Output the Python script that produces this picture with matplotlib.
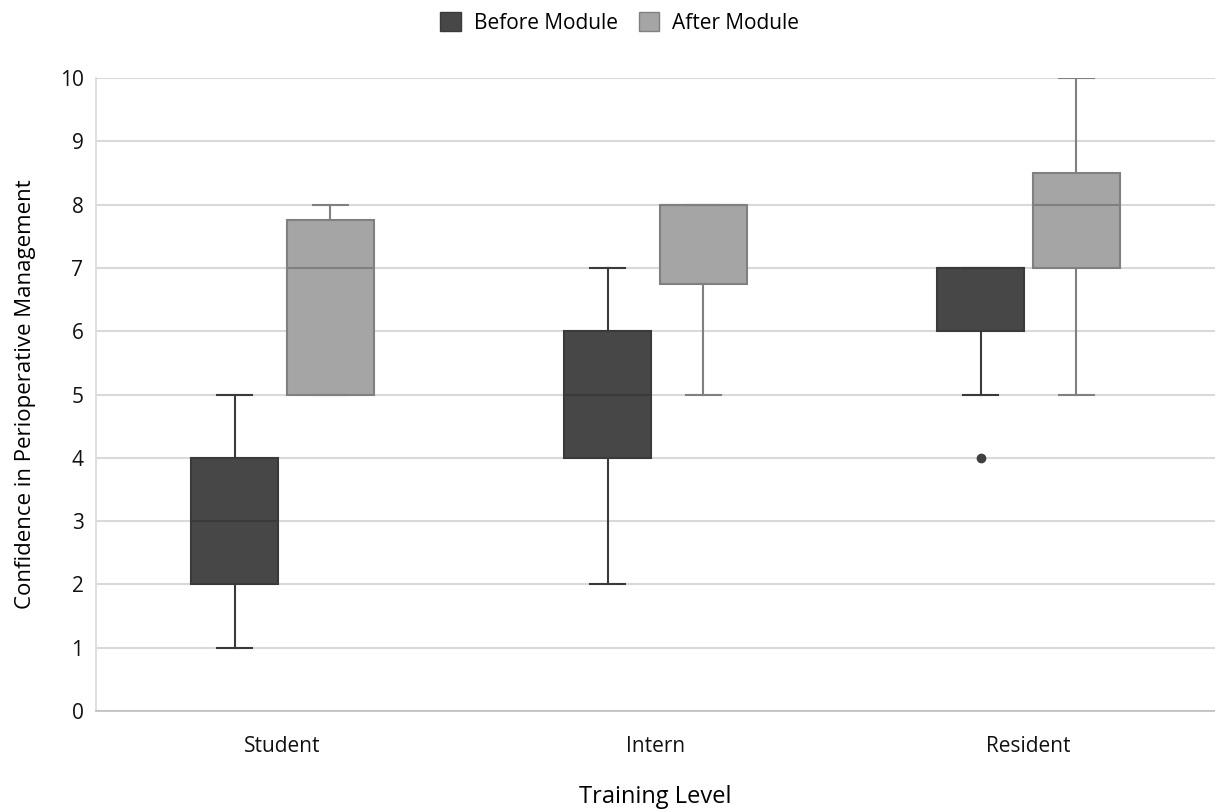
import matplotlib.pyplot as plt
from matplotlib.patches import Patch

plt.rcParams['font.family'] = ['Open Sans', 'DejaVu Sans']

levels = ['Student', 'Intern', 'Resident']

# five-number summaries: whislo, q1, med, q3, whishi
before_lo = [1, 2, 5]
before_q1 = [2, 4, 6]
before_med = [3, 5, 7]
before_q3 = [4, 6, 7]
before_hi = [5, 7, 7]
before_fliers = [[], [], [4]]

after_lo = [5, 5, 5]
after_q1 = [5, 6.75, 7]
after_med = [7, 8, 8]
after_q3 = [7.75, 8, 8.5]
after_hi = [8, 8, 10]
after_fliers = [[], [], []]


def make_stats(lo, q1, med, q3, hi, fl):
    return [dict(whislo=a, q1=b, med=c, q3=d, whishi=e, fliers=f)
            for a, b, c, d, e, f in zip(lo, q1, med, q3, hi, fl)]


before = make_stats(before_lo, before_q1, before_med, before_q3, before_hi, before_fliers)
after = make_stats(after_lo, after_q1, after_med, after_q3, after_hi, after_fliers)

fig = plt.figure(figsize=(12.15, 8.09), dpi=100)
ax = fig.add_axes([0.079, 0.121, 0.921, 0.7826])

ax.yaxis.grid(True, color='#d9d9d9', linewidth=1.5)
ax.set_axisbelow(True)

pos = list(range(len(levels)))
w = 0.232
off = 0.128

for stats, shift, fill, edge in [(before, -off, '#474747', '#3a3a3a'),
                                 (after, off, '#a5a5a5', '#808080')]:
    ax.bxp(stats, positions=[p + shift for p in pos], widths=w,
           patch_artist=True, showfliers=True, capwidths=w * 0.4,
           boxprops=dict(facecolor=fill, edgecolor=edge, linewidth=1.5),
           medianprops=dict(color=edge, linewidth=1.5),
           whiskerprops=dict(color=edge, linewidth=1.5),
           capprops=dict(color=edge, linewidth=1.5),
           flierprops=dict(marker='o', markerfacecolor='#404040',
                           markeredgecolor='#404040', markersize=6),
           manage_ticks=False)

ax.set_xlim(-0.5, 2.5)
ax.set_ylim(0, 10)
ax.set_yticks(range(0, 11))
ax.set_xticks(pos)
ax.set_xticklabels(levels)
ax.tick_params(axis='both', length=0, labelsize=15, colors='#111111')
ax.tick_params(axis='x', pad=18)
ax.tick_params(axis='y', pad=9)

for s in ['top', 'right']:
    ax.spines[s].set_visible(False)
ax.spines['left'].set_color('#d9d9d9')
ax.spines['bottom'].set_color('#bfbfbf')
ax.spines['left'].set_linewidth(1.2)
ax.spines['bottom'].set_linewidth(1.2)

ax.set_xlabel('Training Level', fontsize=17, labelpad=20)
ax.set_ylabel('Confidence in Perioperative Management', fontsize=16, labelpad=17)

handles = [Patch(facecolor='#474747', edgecolor='#3a3a3a', label='Before Module'),
           Patch(facecolor='#a5a5a5', edgecolor='#808080', label='After Module')]
fig.legend(handles=handles, loc='upper center', bbox_to_anchor=(0.51, 1.008),
           ncol=2, frameon=False, fontsize=15, handlelength=1.0,
           handleheight=1.0, columnspacing=1.0, handletextpad=0.6)

fig.savefig('out.png', dpi=100)
